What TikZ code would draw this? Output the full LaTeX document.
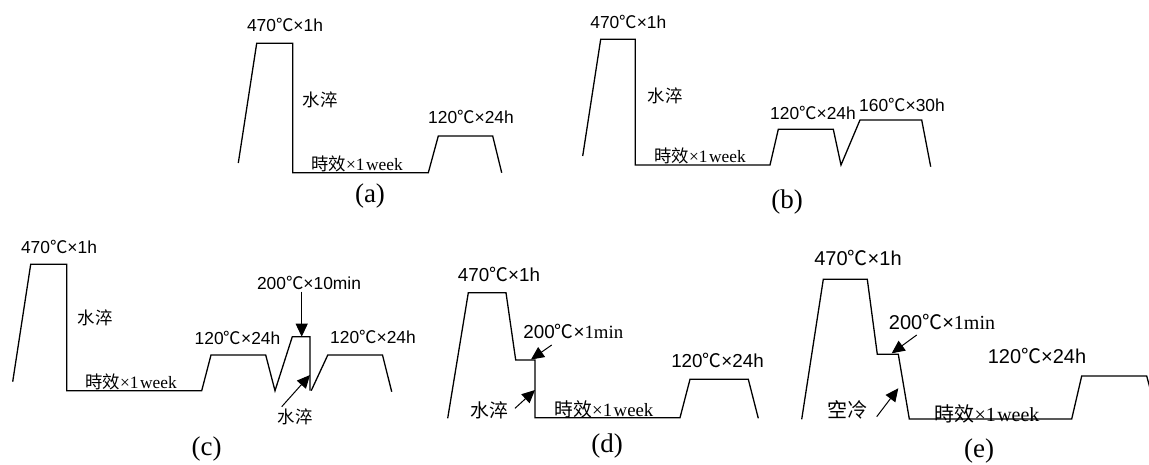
\documentclass[tikz,border=0pt]{standalone}
\usepackage{fontspec}
\setmainfont{Liberation Serif}
\newfontfamily\sansf{Liberation Sans}
\newfontfamily\cjk{Noto Sans CJK TC}
\usetikzlibrary{arrows.meta}
% degree-Celsius sign and CJK words
\newcommand\tdeg{{\cjk ℃}}
\newcommand\zh[1]{{\cjk #1}}
\newcommand\aging{\zh{時效}{\rmfamily ×1\kern1.5pt week}}

\begin{document}
\begin{tikzpicture}[x=1pt,y=-1pt,
  profile/.style={draw, line width=1.3pt, line join=miter},
  lbl/.style={inner sep=0pt, font=\fontsize{17.4}{18}\sansf},
  lbld/.style={inner sep=0pt, font=\fontsize{18.8}{19}\sansf},
  lble/.style={inner sep=0pt, font=\fontsize{20}{20}\sansf},
  capt/.style={inner sep=0pt, font=\fontsize{27}{27}\rmfamily},
  pointer/.style={draw, line width=1pt, -{Triangle[length=13pt,width=12pt]}}
]
\useasboundingbox (0,0) rectangle (1149,464);
\clip (0,0) rectangle (1149,464);

% ---------------- (a) ----------------
\draw[profile] (238.3,163) -- (256.7,43.3) -- (292.7,43.3) -- (292.7,172.7)
  -- (428.3,172.7) -- (438.3,136) -- (492.7,136) -- (501.7,172.7);
\node[lbl] (a-sol) at (285,25) {470\tdeg×1h};
\node[lbl] (a-wq) at (320,100) {\zh{水淬}};
\node[lbl] (a-age) at (357,164) {\aging};
\node[lbl] (a-pre) at (471,117) {120\tdeg×24h};
\node[capt] (a-cap) at (370,196) {(a)};

% ---------------- (b) ----------------
\draw[profile] (582.7,156) -- (600.7,39.3) -- (635.3,39.3) -- (635.3,165)
  -- (770,165) -- (778.3,129.3) -- (833.3,129.3) -- (841,165)
  -- (860,120) -- (921.7,120) -- (930.7,166.7);
\node[lbl] (b-sol) at (628.3,21.7) {470\tdeg×1h};
\node[lbl] (b-wq) at (665,96) {\zh{水淬}};
\node[lbl] (b-age) at (700,156) {\aging};
\node[lbl] (b-pre) at (813,113) {120\tdeg×24h};
\node[lbl] (b-art) at (902,105) {160\tdeg×30h};
\node[capt] (b-cap) at (787,202) {(b)};

% ---------------- (c) ----------------
\draw[profile] (12.7,381.7) -- (30.7,264.3) -- (66.7,264.3) -- (66.7,390.7)
  -- (201.7,390.7) -- (211,355) -- (265.7,355) -- (275,390.7)
  -- (292.3,336.7) -- (310,336.7) -- (310,390.7);
\draw[profile] (311.2,390.7) -- (327.8,355) -- (382.5,355) -- (391.7,391.7);
\node[lbl] (c-sol) at (59,246.7) {470\tdeg×1h};
\node[lbl] (c-wq) at (95,318) {\zh{水淬}};
\node[lbl] (c-age) at (131,382) {\aging};
\node[lbl] (c-pre) at (237.5,338) {120\tdeg×24h};
\node[lbl] (c-rra) at (309,282.5) {200\tdeg×10min};
\node[lbl] (c-wq2) at (295,417) {\zh{水淬}};
\node[lbl] (c-pre2) at (373,337) {120\tdeg×24h};
\node[capt] (c-cap) at (206.7,449) {(c)};
\coordinate (c-rra-from) at (301.7,291.7);
\coordinate (c-rra-to) at (301.7,336.7);
\coordinate (c-wq-from) at (281.7,406.7);
\coordinate (c-wq-to) at (310,375);
\draw[pointer] (c-rra-from) -- (c-rra-to);
\draw[pointer] (c-wq-from) -- (c-wq-to);

% ---------------- (d) ----------------
\draw[profile] (447.7,418.3) -- (468.3,292.7) -- (506,292.7) -- (515.7,360)
  -- (535,360) -- (535,417.7) -- (680,417.7) -- (690,379.3)
  -- (748.3,379.3) -- (758.3,418.3);
\node[lbld] (d-sol) at (499,274) {470\tdeg×1h};
\node[lbld] (d-rra) at (573.3,331) {200\tdeg×{\rmfamily 1min}};
\node[lbld] (d-wq) at (489,410) {\zh{水淬}};
\node[lbld] (d-age) at (604,409) {\aging};
\node[lbld] (d-pre) at (717.5,360) {120\tdeg×24h};
\node[capt] (d-cap) at (607,445.5) {(d)};
\coordinate (d-rra-from) at (551.7,345);
\coordinate (d-rra-to) at (531,359.5);
\coordinate (d-wq-from) at (515,408.3);
\coordinate (d-wq-to) at (535,390);
\draw[pointer] (d-rra-from) -- (d-rra-to);
\draw[pointer] (d-wq-from) -- (d-wq-to);

% ---------------- (e) ----------------
\draw[profile] (801.7,419.3) -- (823.3,279.3) -- (867.3,279.3) -- (877.3,354.3)
  -- (898.3,354.3) -- (909.3,419) -- (1071.7,419) -- (1081.7,376)
  -- (1146.7,376) -- (1151,392);
\node[lble] (e-sol) at (858,258) {470\tdeg×1h};
\node[lble] (e-rra) at (942,322) {200\tdeg×{\rmfamily 1min}};
\node[lble] (e-ac) at (847,410) {\zh{空冷}};
\node[lble] (e-age) at (987,414) {\aging};
\node[lble] (e-pre) at (1037,356) {120\tdeg×24h};
\node[capt] (e-cap) at (979,451) {(e)};
\coordinate (e-rra-from) at (916.7,335);
\coordinate (e-rra-to) at (891.7,353.3);
\coordinate (e-ac-from) at (876.7,416.7);
\coordinate (e-ac-to) at (898.3,388.3);
\draw[pointer] (e-rra-from) -- (e-rra-to);
\draw[pointer] (e-ac-from) -- (e-ac-to);
\end{tikzpicture}
\end{document}
